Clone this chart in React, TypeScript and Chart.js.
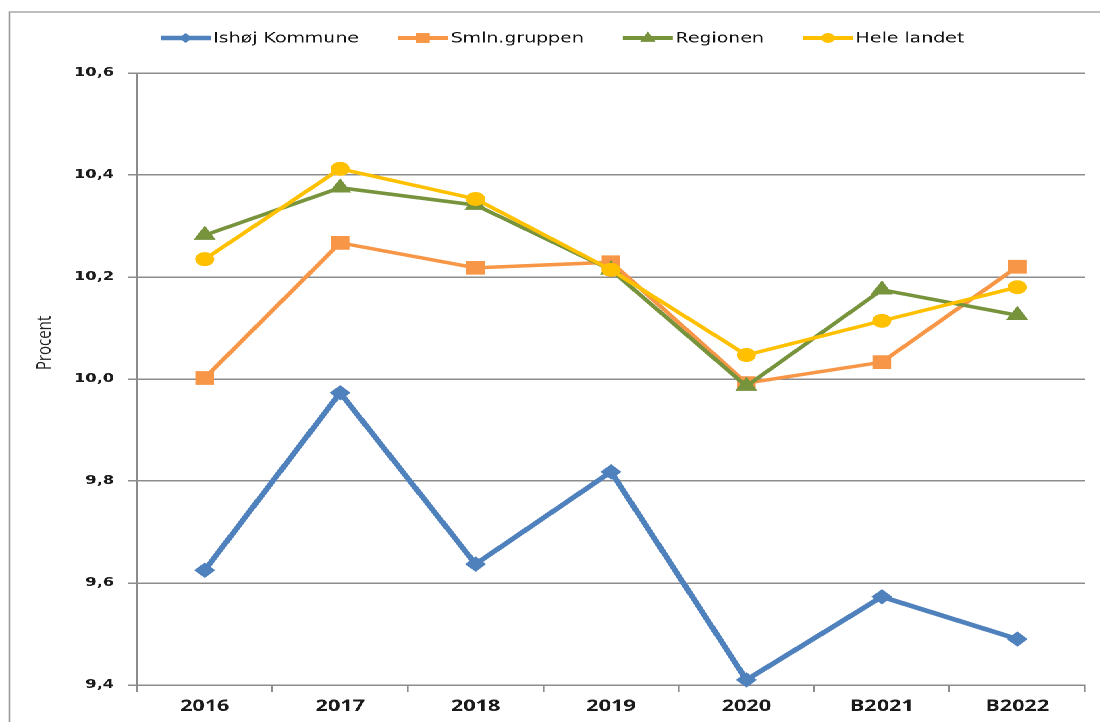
import React, { useEffect, useRef } from 'react';
import { Chart, registerables } from 'chart.js';

Chart.register(...registerables);

const categories = ['2016', '2017', '2018', '2019', '2020', 'B2021', 'B2022'];
const ishojKommune = [9.625, 9.973, 9.637, 9.818, 9.41, 9.573, 9.49];
const smlnGruppen = [10.002, 10.267, 10.218, 10.229, 9.992, 10.033, 10.22];
const regionen = [10.282, 10.375, 10.341, 10.214, 9.986, 10.175, 10.125];
const heleLandet = [10.235, 10.412, 10.353, 10.214, 10.047, 10.114, 10.18];
const seriesNames = ['Ishøj Kommune', 'Smln.gruppen', 'Regionen', 'Hele landet'];
const seriesColors = ['#4F81BD', '#F79646', '#77933C', '#FFC000'];
const yMin = 9.4;
const yMax = 10.6;
const yStep = 0.2;
const yAxisTitle = 'Procent';

const STRETCH = 1.35;
const CW = 815;
const CH = 722;

function drawMarker(ctx: CanvasRenderingContext2D, kind: string, x: number, y: number, r: number) {
  ctx.beginPath();
  if (kind === 'rectRot') {
    ctx.moveTo(x, y - r);
    ctx.lineTo(x + r, y);
    ctx.lineTo(x, y + r);
    ctx.lineTo(x - r, y);
    ctx.closePath();
  } else if (kind === 'rect') {
    const s = r * Math.SQRT1_2;
    ctx.rect(x - s, y - s, 2 * s, 2 * s);
  } else if (kind === 'triangle') {
    ctx.moveTo(x, y - r);
    ctx.lineTo(x + r * 0.9, y + r * 0.6);
    ctx.lineTo(x - r * 0.9, y + r * 0.6);
    ctx.closePath();
  } else {
    ctx.arc(x, y, r, 0, Math.PI * 2);
  }
  ctx.fill();
}

const markerKinds = ['rectRot', 'rect', 'triangle', 'circle'];

const decorPlugin = {
  id: 'decor',
  beforeDraw(chart: any) {
    const ctx: CanvasRenderingContext2D = chart.ctx;
    ctx.save();
    ctx.strokeStyle = '#9a9a9a';
    ctx.lineWidth = 1.3;
    ctx.strokeRect(7, 12, CW + 20, CH + 20);
    ctx.restore();
  },
  afterDraw(chart: any) {
    const ctx: CanvasRenderingContext2D = chart.ctx;
    ctx.save();
    // legend
    let x = 119;
    const y = 38;
    ctx.font = '14px "DejaVu Sans"';
    ctx.textBaseline = 'middle';
    seriesNames.forEach((name, i) => {
      ctx.strokeStyle = seriesColors[i];
      ctx.fillStyle = seriesColors[i];
      ctx.lineWidth = i === 0 ? 4.5 : 4;
      ctx.beginPath();
      ctx.moveTo(x, y);
      ctx.lineTo(x + 37, y);
      ctx.stroke();
      drawMarker(ctx, markerKinds[i], x + 18.5, y, i === 1 ? 7 : i === 2 ? 6.5 : 5);
      ctx.fillStyle = '#111';
      ctx.textAlign = 'left';
      ctx.fillText(name, x + 39, y + 1);
      x += 39 + ctx.measureText(name).width + 29;
    });
    // y axis title
    ctx.translate(33, 343);
    ctx.rotate(-Math.PI / 2);
    ctx.font = '15px "Open Sans"';
    ctx.fillStyle = '#222';
    ctx.textAlign = 'center';
    ctx.textBaseline = 'middle';
    ctx.fillText(yAxisTitle, 0, 0);
    ctx.restore();
  },
};

export default function App() {
  const ref = useRef<HTMLCanvasElement | null>(null);

  useEffect(() => {
    if (!ref.current) return;
    const seriesData = [ishojKommune, smlnGruppen, regionen, heleLandet];
    const radii = [7, 9, 8.5, 6.5];
    const chart = new Chart(ref.current, {
      type: 'line',
      data: {
        labels: categories,
        datasets: seriesData.map((d, i) => ({
          label: seriesNames[i],
          data: d,
          borderColor: seriesColors[i],
          backgroundColor: seriesColors[i],
          pointBackgroundColor: seriesColors[i],
          pointBorderColor: seriesColors[i],
          pointStyle: markerKinds[i] as any,
          pointRadius: radii[i],
          pointBorderWidth: 1,
          borderWidth: i === 0 ? 4.5 : 3.5,
          tension: 0,
          clip: false as any,
          order: 4 - i,
        })),
      },
      options: {
        responsive: false,
        animation: false,
        devicePixelRatio: 2,
        layout: { padding: { left: 0, right: CW - 803.7, top: 73, bottom: 0 } },
        plugins: {
          legend: { display: false },
          tooltip: { enabled: false },
          title: { display: false },
        },
        scales: {
          x: {
            offset: true,
            grid: {
              offset: true,
              drawOnChartArea: false,
              drawTicks: true,
              tickLength: 7,
              color: '#8c8c8c',
              lineWidth: 1.3,
            },
            border: { display: true, color: '#8c8c8c', width: 1.5 },
            ticks: {
              font: { family: '"Open Sans"', size: 16, weight: 'bold' },
              color: '#1a1a1a',
              padding: 5,
              maxRotation: 0,
              autoSkip: false,
            },
            afterFit: (scale: any) => {
              scale.height = 37;
            },
          },
          y: {
            min: yMin,
            max: yMax,
            grid: {
              drawOnChartArea: true,
              drawTicks: true,
              tickLength: 7,
              color: '#8c8c8c',
              lineWidth: 1.5,
            },
            border: { display: true, color: '#8c8c8c', width: 1.5 },
            ticks: {
              stepSize: yStep,
              font: { family: '"DejaVu Sans"', size: 12, weight: 'bold' },
              color: '#1a1a1a',
              padding: 10,
              callback: (v: any) => Number(v).toFixed(1).replace('.', ','),
            },
            afterFit: (scale: any) => {
              scale.width = 101.5;
            },
          },
        },
      },
      plugins: [decorPlugin],
    });
    return () => chart.destroy();
  }, []);

  return (
    <div
      style={{
        position: 'fixed',
        left: 0,
        top: 0,
        width: CW,
        height: CH,
        transform: `scaleX(${STRETCH})`,
        transformOrigin: '0 0',
        background: '#fff',
      }}
    >
      <canvas ref={ref} width={CW} height={CH} style={{ display: 'block' }} />
    </div>
  );
}
